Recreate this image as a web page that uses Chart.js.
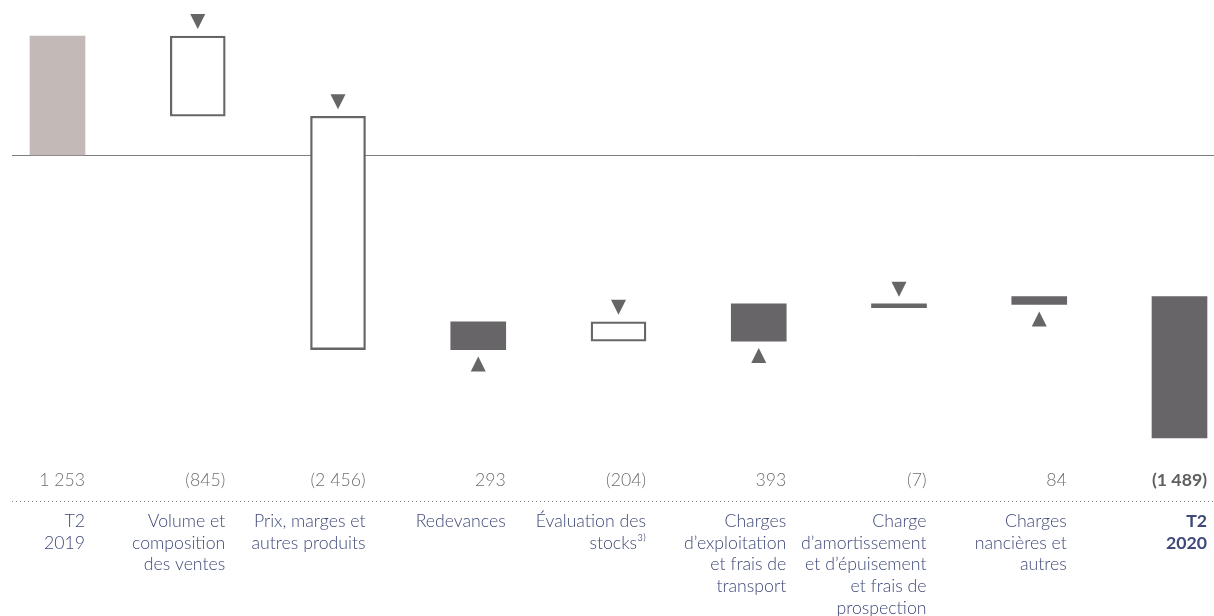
<!DOCTYPE html>
<html lang="fr">
<head>
<meta charset="utf-8">
<title>Bénéfice net T2 2019 – T2 2020</title>
<script src="https://cdn.jsdelivr.net/npm/chart.js@4.4.1/dist/chart.umd.min.js"></script>
<style>
  html, body { margin: 0; padding: 0; background: #fff; }
  #wrap { width: 1214px; height: 616px; position: relative; }
</style>
</head>
<body>
<div id="wrap"><canvas id="bridge"></canvas></div>
<script>
// Chart data
const categories = [
  ["T2", "2019"],
  ["Volume et", "composition", "des ventes"],
  ["Prix, marges et", "autres produits"],
  ["Redevances"],
  ["Évaluation des", "stocks³⁾"],
  ["Charges", "d’exploitation", "et frais de", "transport"],
  ["Charge", "d’amortissement", "et d’épuisement", "et frais de", "prospection"],
  ["Charges", "nancières et", "autres"],
  ["T2", "2020"]
];
const changes = [1253, -845, -2456, 293, -204, 393, -7, 84, -1489];
const valueLabels = ["1 253", "(845)", "(2 456)", "293", "(204)", "393", "(7)", "84", "(1 489)"];

// Colours
const TAUPE = "#c3b9b7";
const DARK = "#676567";
const TEXT_GREY = "#6e6e6e";
const NAVY = "#3f4979";
const FONT = "Lato, 'Open Sans', sans-serif";
const SIZE = "17.7px ";

const last = changes.length - 1;

// Build floating bars [start, end] from the running total
let running = 0;
const floating = changes.map((v, i) => {
  if (i === 0) { running = v; return [0, v]; }
  if (i === last) return [running, running - Math.abs(v)];
  const start = running;
  running += v;
  return [start, running];
});

const fills = changes.map((v, i) => {
  if (i === 0) return TAUPE;
  if (i === last) return DARK;
  return v < 0 && Math.abs(v) > 50 ? "#ffffff" : DARK;
});
const borders = changes.map((v, i) =>
  (i !== 0 && i !== last && v < 0 && Math.abs(v) > 50) ? 2.3 : 0);

// Annotations: zero line, triangles, value row, dotted rule, category labels
const bridgeDecor = {
  id: "bridgeDecor",
  beforeDatasetsDraw(chart) {
    const { ctx, scales: { y } } = chart;
    const y0 = Math.round(y.getPixelForValue(0)) + 0.5;
    ctx.save();
    ctx.strokeStyle = "#7d7d7d";
    ctx.lineWidth = 1;
    ctx.beginPath();
    ctx.moveTo(12, y0);
    ctx.lineTo(chart.width, y0);
    ctx.stroke();
    ctx.restore();
  },
  afterDatasetsDraw(chart) {
    const { ctx, scales: { x, y } } = chart;
    const half = 27.5;
    ctx.save();

    // arrows
    ctx.fillStyle = DARK;
    changes.forEach((v, i) => {
      if (i === 0 || i === last) return;
      const cx = x.getPixelForValue(i);
      const [a, b] = floating[i];
      if (v < 0) {
        const top = y.getPixelForValue(Math.max(a, b)) - 7;
        ctx.beginPath();
        ctx.moveTo(cx - 7.5, top - 15);
        ctx.lineTo(cx + 7.5, top - 15);
        ctx.lineTo(cx, top);
        ctx.closePath();
        ctx.fill();
      } else {
        const bot = y.getPixelForValue(Math.min(a, b)) + 7;
        ctx.beginPath();
        ctx.moveTo(cx - 7.5, bot + 15);
        ctx.lineTo(cx + 7.5, bot + 15);
        ctx.lineTo(cx, bot);
        ctx.closePath();
        ctx.fill();
      }
    });

    // value row
    ctx.textAlign = "right";
    ctx.textBaseline = "middle";
    valueLabels.forEach((t, i) => {
      const bold = i === last;
      ctx.font = (bold ? "bold " : "300 ") + SIZE + FONT;
      ctx.fillStyle = bold ? "#5f5f5f" : TEXT_GREY;
      ctx.fillText(t, x.getPixelForValue(i) + half, 480);
    });

    // dotted rule
    ctx.strokeStyle = "#8a8a8a";
    ctx.lineWidth = 1;
    ctx.setLineDash([1, 3]);
    ctx.beginPath();
    ctx.moveTo(12, 501.5);
    ctx.lineTo(chart.width, 501.5);
    ctx.stroke();
    ctx.setLineDash([]);

    // category labels
    categories.forEach((lines, i) => {
      const bold = i === last;
      ctx.font = (bold ? "bold " : "300 ") + SIZE + FONT;
      ctx.fillStyle = NAVY;
      lines.forEach((line, k) => {
        ctx.fillText(line, x.getPixelForValue(i) + half, 521 + k * 21.8);
      });
    });

    ctx.restore();
  }
};

const chart = new Chart(document.getElementById("bridge"), {
  type: "bar",
  data: {
    labels: categories,
    datasets: [{
      data: floating,
      backgroundColor: fills,
      borderColor: DARK,
      borderWidth: borders,
      borderSkipped: false,
      barThickness: 55,
      minBarLength: 4,
      clip: false
    }]
  },
  options: {
    responsive: true,
    maintainAspectRatio: false,
    animation: false,
    layout: { padding: { left: 57.5, right: 34.5, top: 12.5, bottom: 176 } },
    plugins: { legend: { display: false }, tooltip: { enabled: false } },
    scales: {
      x: { display: false, offset: false },
      y: { display: false, min: -3000, max: 1500 }
    }
  },
  plugins: [bridgeDecor]
});
</script>
</body>
</html>
